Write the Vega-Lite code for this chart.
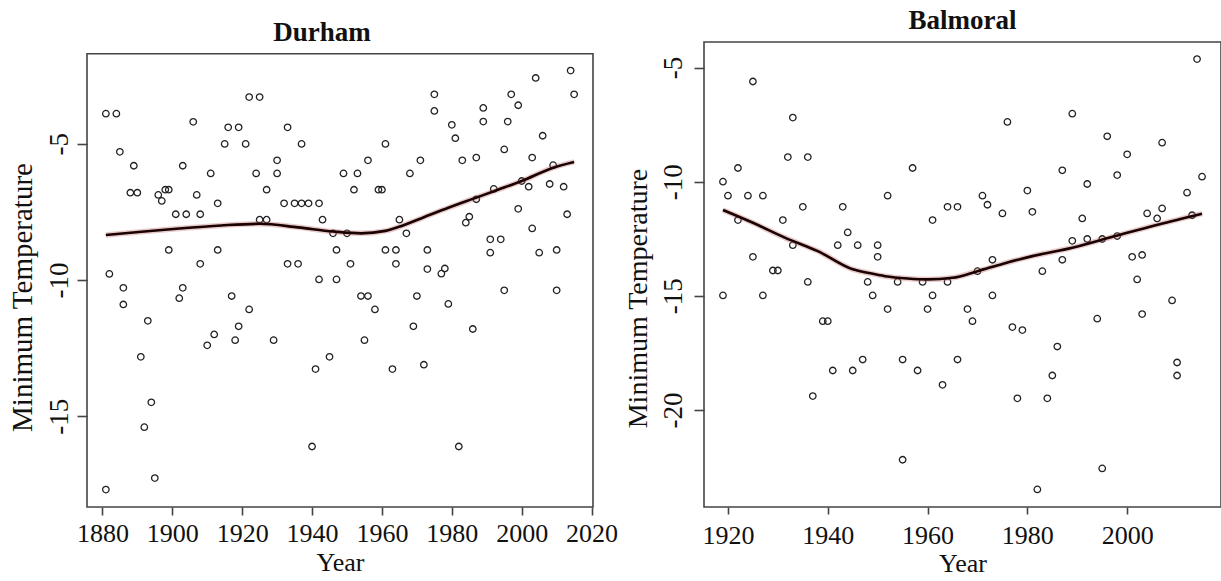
{
  "$schema": "https://vega.github.io/schema/vega-lite/v6.json",
  "background": "white",
  "padding": {"left": 7, "top": 6, "right": 0, "bottom": 0},
  "spacing": 5,
  "config": {
    "font": "Liberation Serif",
    "view": {"stroke": "#444", "strokeWidth": 1.6},
    "axis": {
      "grid": false,
      "domain": false,
      "tickColor": "#444",
      "tickWidth": 1.6,
      "labelColor": "#111",
      "titleColor": "#111",
      "labelFont": "Liberation Serif",
      "titleFont": "Liberation Serif",
      "titleFontWeight": "normal",
      "labelFlush": false,
      "labelOverlap": false,
      "labelExpr": "'' + datum.value"
    },
    "title": {
      "font": "Liberation Serif",
      "fontSize": 27,
      "fontWeight": "bold",
      "color": "#111",
      "baseline": "bottom",
      "offset": 7,
      "frame": "group"
    }
  },
  "datasets": {
    "durham": [
      {"year": 1881, "t": -3.90}, {"year": 1884, "t": -3.90}, {"year": 1885, "t": -5.30}, {"year": 1889, "t": -5.81},
      {"year": 1888, "t": -6.80}, {"year": 1890, "t": -6.80}, {"year": 1896, "t": -6.88}, {"year": 1897, "t": -7.10},
      {"year": 1898, "t": -6.69}, {"year": 1899, "t": -6.69}, {"year": 1903, "t": -5.81}, {"year": 1906, "t": -4.20},
      {"year": 1901, "t": -7.59}, {"year": 1904, "t": -7.59}, {"year": 1908, "t": -7.59}, {"year": 1907, "t": -6.88},
      {"year": 1911, "t": -6.09}, {"year": 1913, "t": -7.19}, {"year": 1916, "t": -4.40}, {"year": 1919, "t": -4.40},
      {"year": 1915, "t": -5.01}, {"year": 1921, "t": -5.01}, {"year": 1922, "t": -3.29}, {"year": 1925, "t": -3.29},
      {"year": 1924, "t": -6.09}, {"year": 1927, "t": -6.69}, {"year": 1925, "t": -7.79}, {"year": 1927, "t": -7.79},
      {"year": 1930, "t": -5.61}, {"year": 1930, "t": -6.09}, {"year": 1933, "t": -4.40}, {"year": 1932, "t": -7.19},
      {"year": 1935, "t": -7.19}, {"year": 1937, "t": -7.19}, {"year": 1939, "t": -7.19}, {"year": 1942, "t": -7.19},
      {"year": 1937, "t": -5.01}, {"year": 1943, "t": -7.79}, {"year": 1899, "t": -8.90}, {"year": 1913, "t": -8.90},
      {"year": 1908, "t": -9.41}, {"year": 1933, "t": -9.41}, {"year": 1936, "t": -9.41}, {"year": 1882, "t": -9.78},
      {"year": 1942, "t": -9.98}, {"year": 1886, "t": -10.29}, {"year": 1903, "t": -10.29}, {"year": 1902, "t": -10.67},
      {"year": 1917, "t": -10.59}, {"year": 1886, "t": -10.90}, {"year": 1922, "t": -11.08}, {"year": 1893, "t": -11.50},
      {"year": 1919, "t": -11.70}, {"year": 1912, "t": -12.00}, {"year": 1910, "t": -12.40}, {"year": 1918, "t": -12.21},
      {"year": 1929, "t": -12.21}, {"year": 1891, "t": -12.82}, {"year": 1941, "t": -13.27}, {"year": 1945, "t": -12.82},
      {"year": 1894, "t": -14.49}, {"year": 1892, "t": -15.40}, {"year": 1940, "t": -16.11}, {"year": 1895, "t": -17.27},
      {"year": 1881, "t": -17.69}, {"year": 1961, "t": -5.01}, {"year": 1956, "t": -5.61}, {"year": 1971, "t": -5.61},
      {"year": 1949, "t": -6.09}, {"year": 1953, "t": -6.09}, {"year": 1968, "t": -6.09}, {"year": 1952, "t": -6.69},
      {"year": 1959, "t": -6.69}, {"year": 1960, "t": -6.69}, {"year": 1946, "t": -8.29}, {"year": 1950, "t": -8.29},
      {"year": 1965, "t": -7.79}, {"year": 1967, "t": -8.29}, {"year": 1947, "t": -8.90}, {"year": 1961, "t": -8.90},
      {"year": 1964, "t": -8.90}, {"year": 1973, "t": -8.90}, {"year": 1951, "t": -9.41}, {"year": 1964, "t": -9.41},
      {"year": 1973, "t": -9.60}, {"year": 1978, "t": -9.58}, {"year": 1977, "t": -9.77}, {"year": 1947, "t": -9.98},
      {"year": 1954, "t": -10.59}, {"year": 1956, "t": -10.59}, {"year": 1970, "t": -10.59}, {"year": 1975, "t": -3.19},
      {"year": 1975, "t": -3.80}, {"year": 1980, "t": -4.31}, {"year": 1981, "t": -4.80}, {"year": 1983, "t": -5.61},
      {"year": 1987, "t": -5.51}, {"year": 1989, "t": -3.69}, {"year": 1989, "t": -4.19}, {"year": 1997, "t": -3.19},
      {"year": 1999, "t": -3.59}, {"year": 1996, "t": -4.19}, {"year": 1995, "t": -5.21}, {"year": 2004, "t": -2.59},
      {"year": 2006, "t": -4.71}, {"year": 2003, "t": -5.51}, {"year": 2014, "t": -2.32}, {"year": 2015, "t": -3.19},
      {"year": 1992, "t": -6.66}, {"year": 2000, "t": -6.37}, {"year": 2002, "t": -6.58}, {"year": 2008, "t": -6.48},
      {"year": 2012, "t": -6.58}, {"year": 2009, "t": -5.79}, {"year": 1999, "t": -7.39}, {"year": 2013, "t": -7.59},
      {"year": 1987, "t": -7.04}, {"year": 1985, "t": -7.68}, {"year": 1984, "t": -7.90}, {"year": 2003, "t": -8.11},
      {"year": 1991, "t": -8.51}, {"year": 1994, "t": -8.51}, {"year": 1991, "t": -9.00}, {"year": 2005, "t": -9.00},
      {"year": 2010, "t": -8.90}, {"year": 1995, "t": -10.38}, {"year": 2010, "t": -10.38}, {"year": 1958, "t": -11.08},
      {"year": 1979, "t": -10.88}, {"year": 1969, "t": -11.70}, {"year": 1986, "t": -11.80}, {"year": 1955, "t": -12.21},
      {"year": 1963, "t": -13.27}, {"year": 1972, "t": -13.11}, {"year": 1982, "t": -16.11}
    ],
    "durham_smooth": [
      {"year": 1881, "t": -8.35}, {"year": 1892, "t": -8.22}, {"year": 1902, "t": -8.11}, {"year": 1914, "t": -8.00},
      {"year": 1925, "t": -7.94}, {"year": 1936, "t": -8.07}, {"year": 1946, "t": -8.22}, {"year": 1954, "t": -8.29},
      {"year": 1961, "t": -8.20}, {"year": 1966, "t": -8.00}, {"year": 1972, "t": -7.70}, {"year": 1979, "t": -7.35},
      {"year": 1987, "t": -6.98}, {"year": 1993, "t": -6.70}, {"year": 2000, "t": -6.37}, {"year": 2009, "t": -5.88},
      {"year": 2015, "t": -5.67}
    ],
    "balmoral": [
      {"year": 1925, "t": -5.61}, {"year": 1933, "t": -7.19}, {"year": 1932, "t": -8.92}, {"year": 1936, "t": -8.92},
      {"year": 1922, "t": -9.40}, {"year": 1957, "t": -9.40}, {"year": 1919, "t": -10.00}, {"year": 1920, "t": -10.61},
      {"year": 1924, "t": -10.61}, {"year": 1927, "t": -10.61}, {"year": 1952, "t": -10.61}, {"year": 1935, "t": -11.10},
      {"year": 1943, "t": -11.10}, {"year": 1922, "t": -11.68}, {"year": 1931, "t": -11.68}, {"year": 1944, "t": -12.22},
      {"year": 1933, "t": -12.78}, {"year": 1942, "t": -12.78}, {"year": 1946, "t": -12.78}, {"year": 1950, "t": -12.78},
      {"year": 1950, "t": -13.29}, {"year": 1925, "t": -13.29}, {"year": 1929, "t": -13.89}, {"year": 1930, "t": -13.89},
      {"year": 1936, "t": -14.39}, {"year": 1948, "t": -14.39}, {"year": 1954, "t": -14.39}, {"year": 1959, "t": -14.39},
      {"year": 1919, "t": -14.98}, {"year": 1927, "t": -14.98}, {"year": 1949, "t": -14.98}, {"year": 1952, "t": -15.58},
      {"year": 1960, "t": -15.58}, {"year": 1939, "t": -16.11}, {"year": 1940, "t": -16.11}, {"year": 1941, "t": -18.27},
      {"year": 1945, "t": -18.27}, {"year": 1947, "t": -17.79}, {"year": 1955, "t": -17.79}, {"year": 1958, "t": -18.27},
      {"year": 1937, "t": -19.39}, {"year": 1955, "t": -22.18}, {"year": 2014, "t": -4.63}, {"year": 1976, "t": -7.38},
      {"year": 1989, "t": -7.02}, {"year": 1996, "t": -8.01}, {"year": 2000, "t": -8.80}, {"year": 2007, "t": -8.29},
      {"year": 1998, "t": -9.71}, {"year": 1987, "t": -9.50}, {"year": 1992, "t": -10.10}, {"year": 2015, "t": -9.78},
      {"year": 2012, "t": -10.48}, {"year": 1971, "t": -10.61}, {"year": 1980, "t": -10.39}, {"year": 1972, "t": -11.01},
      {"year": 1964, "t": -11.10}, {"year": 1966, "t": -11.10}, {"year": 1975, "t": -11.39}, {"year": 1981, "t": -11.32},
      {"year": 1991, "t": -11.61}, {"year": 2004, "t": -11.39}, {"year": 2007, "t": -11.17}, {"year": 2006, "t": -11.61},
      {"year": 2013, "t": -11.47}, {"year": 1961, "t": -11.68}, {"year": 1989, "t": -12.59}, {"year": 1992, "t": -12.51},
      {"year": 1995, "t": -12.51}, {"year": 1998, "t": -12.38}, {"year": 2001, "t": -13.29}, {"year": 2003, "t": -13.21},
      {"year": 1973, "t": -13.42}, {"year": 1987, "t": -13.42}, {"year": 1970, "t": -13.92}, {"year": 1983, "t": -13.92},
      {"year": 1964, "t": -14.39}, {"year": 2002, "t": -14.28}, {"year": 1961, "t": -14.98}, {"year": 1973, "t": -14.98},
      {"year": 2009, "t": -15.20}, {"year": 1968, "t": -15.58}, {"year": 1969, "t": -16.11}, {"year": 1977, "t": -16.37},
      {"year": 1979, "t": -16.50}, {"year": 2003, "t": -15.80}, {"year": 1994, "t": -16.00}, {"year": 1986, "t": -17.22},
      {"year": 1966, "t": -17.79}, {"year": 1963, "t": -18.90}, {"year": 1985, "t": -18.49}, {"year": 2010, "t": -17.92},
      {"year": 2010, "t": -18.49}, {"year": 1978, "t": -19.49}, {"year": 1984, "t": -19.49}, {"year": 1995, "t": -22.56},
      {"year": 1982, "t": -23.48}
    ],
    "balmoral_smooth": [
      {"year": 1919, "t": -11.24}, {"year": 1925, "t": -11.80}, {"year": 1931.5, "t": -12.46}, {"year": 1938, "t": -13.04},
      {"year": 1945, "t": -13.84}, {"year": 1948, "t": -13.99}, {"year": 1951.5, "t": -14.14}, {"year": 1956, "t": -14.24},
      {"year": 1960, "t": -14.28}, {"year": 1965, "t": -14.21}, {"year": 1970, "t": -13.92}, {"year": 1975, "t": -13.60},
      {"year": 1981, "t": -13.26}, {"year": 1989, "t": -12.89}, {"year": 1997.6, "t": -12.38}, {"year": 2006.3, "t": -11.87},
      {"year": 2015, "t": -11.40}
    ]
  },
  "hconcat": [
    {
      "width": 506,
      "height": 465,
      "view": {"stroke": null},
      "title": {"text": "Durham", "dx": -18, "dy": 11.7},
      "layer": [
        {
          "data": {"values": [{"panel": "Durham"}]},
          "mark": {"type": "rect", "fill": "white", "fillOpacity": 0, "stroke": "#444", "strokeWidth": 1.6},
          "encoding": {
            "x": {"datum": 1875.6, "type": "quantitative", "scale": {"domain": [1875.6, 2020.4], "nice": false, "zero": false}},
            "x2": {"datum": 2020.4},
            "y": {"datum": -1.7, "type": "quantitative", "scale": {"domain": [-18.33, -1.27], "nice": false, "zero": false}},
            "y2": {"datum": -18.33}
          }
        },
        {
          "data": {"name": "durham"},
          "mark": {"type": "point", "shape": "circle", "filled": false, "size": 42, "strokeWidth": 1.3, "color": "#222", "opacity": 1},
          "encoding": {
            "x": {
              "field": "year",
              "type": "quantitative",
              "scale": {"domain": [1875.6, 2020.4], "nice": false, "zero": false},
              "axis": {
                "title": "Year",
                "values": [1880, 1900, 1920, 1940, 1960, 1980, 2000, 2020],
                "tickSize": 8,
                "labelFontSize": 26,
                "labelPadding": 5,
                "titleFontSize": 26,
                "titlePadding": 3
              }
            },
            "y": {
              "field": "t",
              "type": "quantitative",
              "scale": {"domain": [-18.33, -1.27], "nice": false, "zero": false},
              "axis": {
                "title": "Minimum Temperature",
                "values": [-15, -10, -5],
                "tickSize": 10,
                "labelAngle": -90,
                "labelAlign": "center",
                "labelBaseline": "alphabetic",
                "labelFontSize": 27,
                "labelPadding": 10,
                "titleFontSize": 29,
                "titlePadding": 8,
                "titleY": 255
              }
            }
          }
        },
        {
          "data": {"name": "durham_smooth"},
          "mark": {"type": "line", "color": "#c06a6a", "strokeWidth": 5.5, "opacity": 0.35, "interpolate": "monotone"},
          "encoding": {
            "x": {"field": "year", "type": "quantitative", "scale": {"domain": [1875.6, 2020.4], "nice": false, "zero": false}},
            "y": {"field": "t", "type": "quantitative", "scale": {"domain": [-18.33, -1.27], "nice": false, "zero": false}}
          }
        },
        {
          "data": {"name": "durham_smooth"},
          "mark": {"type": "line", "color": "#1a0202", "strokeWidth": 2.6, "interpolate": "monotone"},
          "encoding": {
            "x": {"field": "year", "type": "quantitative", "scale": {"domain": [1875.6, 2020.4], "nice": false, "zero": false}},
            "y": {"field": "t", "type": "quantitative", "scale": {"domain": [-18.33, -1.27], "nice": false, "zero": false}}
          }
        }
      ]
    },
    {
      "width": 517,
      "height": 465,
      "title": {"text": "Balmoral"},
      "encoding": {
        "x": {
          "field": "year",
          "type": "quantitative",
          "scale": {"domain": [1915.2, 2018.8], "nice": false, "zero": false},
          "axis": {
            "title": "Year",
            "values": [1920, 1940, 1960, 1980, 2000],
            "tickSize": 7,
            "labelFontSize": 26,
            "labelPadding": 8,
            "titleFontSize": 26,
            "titlePadding": 2
          }
        },
        "y": {
          "field": "t",
          "type": "quantitative",
          "scale": {"domain": [-24.25, -3.88], "nice": false, "zero": false},
          "axis": {
            "title": "Minimum Temperature",
            "values": [-20, -15, -10, -5],
            "tickSize": 10,
            "labelAngle": -90,
            "labelAlign": "center",
            "labelBaseline": "alphabetic",
            "labelFontSize": 27,
            "labelPadding": 13,
            "titleFontSize": 28,
            "titlePadding": 6.5,
            "titleY": 256
          }
        }
      },
      "layer": [
        {
          "data": {"name": "balmoral"},
          "mark": {"type": "point", "shape": "circle", "filled": false, "size": 42, "strokeWidth": 1.3, "color": "#222", "opacity": 1}
        },
        {
          "data": {"name": "balmoral_smooth"},
          "mark": {"type": "line", "color": "#c06a6a", "strokeWidth": 5.5, "opacity": 0.35, "interpolate": "monotone"}
        },
        {
          "data": {"name": "balmoral_smooth"},
          "mark": {"type": "line", "color": "#1a0202", "strokeWidth": 2.6, "interpolate": "monotone"}
        }
      ]
    }
  ]
}
